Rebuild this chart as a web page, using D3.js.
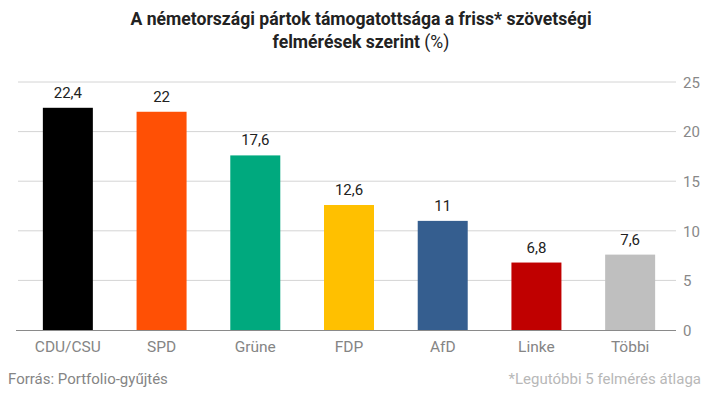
<!DOCTYPE html>
<html><head><meta charset="utf-8">
<script src="https://cdn.jsdelivr.net/npm/d3@7"></script>
<style>body{margin:0;background:#fff;}svg{display:block;font-family:Roboto,sans-serif;}</style>
</head><body>
<svg id="c" width="723" height="396"></svg>
<script>
const categories = ["CDU/CSU","SPD","Grüne","FDP","AfD","Linke","Többi"];
const values = [22.4,22,17.6,12.6,11,6.8,7.6];
const valueLabels = ["22,4","22","17,6","12,6","11","6,8","7,6"];
const colors = ["#000000","#FF5005","#00A97E","#FFC000","#355E8F","#C00000","#BFBFBF"];
const yTicks = [0,5,10,15,20,25];

const svg = d3.select("#c");
const x = d3.scaleBand().domain(categories).range([21,677]).padding(0);
const y = d3.scaleLinear().domain([0,25]).range([330,82]);
const barW = 50;

// gridlines
svg.append("g").selectAll("line").data(yTicks.filter(d=>d>0)).join("line")
  .attr("x1",18).attr("x2",676).attr("y1",d=>y(d)).attr("y2",d=>y(d))
  .attr("stroke","#d4d4d4").attr("stroke-width",1);

// right axis labels
const ax = d3.axisRight(y).tickValues(yTicks).tickSize(0).tickPadding(0);
const g = svg.append("g").attr("transform","translate(683,0)").call(ax);
g.select(".domain").remove();
g.selectAll("text").attr("font-size",15).attr("fill","#888").attr("font-family","Roboto,sans-serif").attr("dy","0.35em");

// bars
svg.append("g").selectAll("rect").data(values).join("rect")
  .attr("x",(d,i)=>x(categories[i])+x.bandwidth()/2-barW/2)
  .attr("width",barW)
  .attr("y",d=>y(d)).attr("height",d=>y(0)-y(d))
  .attr("fill",(d,i)=>colors[i]);

// zero line
svg.append("line").attr("x1",16).attr("x2",676).attr("y1",y(0)+0.5).attr("y2",y(0)+0.5)
  .attr("stroke","#8a8a8a").attr("stroke-width",1);

// value labels
svg.append("g").selectAll("text").data(values).join("text")
  .attr("x",(d,i)=>x(categories[i])+x.bandwidth()/2)
  .attr("y",d=>y(d)-10)
  .attr("text-anchor","middle").attr("font-size",15).attr("fill","#222")
  .text((d,i)=>valueLabels[i]);

// category labels
svg.append("g").selectAll("text").data(categories).join("text")
  .attr("x",d=>x(d)+x.bandwidth()/2).attr("y",352)
  .attr("text-anchor","middle").attr("font-size",15.5).attr("fill","#858585")
  .text(d=>d);

// title
const t = svg.append("text").attr("text-anchor","middle").attr("font-size",17.6).attr("fill","#222").attr("font-weight","bold");
t.append("tspan").attr("x",361).attr("y",25).text("A németországi pártok támogatottsága a friss* szövetségi");
const l2 = t.append("tspan").attr("x",361).attr("y",48);
l2.append("tspan").text("felmérések szerint ");
l2.append("tspan").attr("font-weight","normal").text("(%)");

// footer
svg.append("text").attr("x",8).attr("y",384).attr("font-size",15).attr("fill","#858585").text("Forrás: Portfolio-gyűjtés");
svg.append("text").attr("x",701).attr("y",384).attr("text-anchor","end").attr("font-size",15).attr("fill","#b8b8b8").text("*Legutóbbi 5 felmérés átlaga");
</script>
</body></html>
